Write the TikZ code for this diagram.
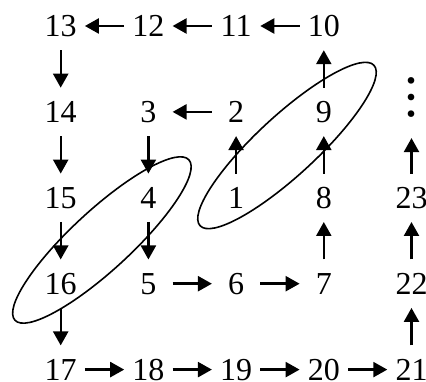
\documentclass[tikz,border=0pt]{standalone}
\usepackage{fontspec}
\setmainfont{Liberation Serif}
\newfontfamily\symfont{Noto Sans CJK SC}
\usetikzlibrary{positioning,arrows.meta}

\begin{document}
\begin{tikzpicture}[
  x=1pt, y=-1pt,
  node distance=57.5pt and 55.3pt,
  num/.style={inner sep=0pt, minimum width=32pt, minimum height=28pt,
    font=\fontsize{32}{38}\selectfont},
  dotsbox/.style={inner sep=0pt, minimum width=32pt, minimum height=60pt,
    font=\symfont\fontsize{50}{52}\selectfont},
  arr/.style={-{Triangle[length=14pt,width=15pt]}, line width=2.4pt},
  harr/.style={arr, shorten <=8pt, shorten >=8pt},
  varr/.style={arr, shorten <=10pt, shorten >=10pt},
  grp/.style={line width=1.6pt}
]
\useasboundingbox (0,0) rectangle (426,382);

% row 1
\node[num] (n13) at (60.7,26) {13};
\node[num, right=of n13] (n12) {12};
\node[num, right=of n12] (n11) {11};
\node[num, right=of n11] (n10) {10};
% row 2
\node[num, below=of n13] (n14) {14};
\node[num, right=of n14] (n3) {3};
\node[num, right=of n3] (n2) {2};
\node[num, right=of n2] (n9) {9};
% row 3
\node[num, below=of n14] (n15) {15};
\node[num, right=of n15] (n4) {4};
\node[num, right=of n4] (n1) {1};
\node[num, right=of n1] (n8) {8};
\node[num, right=of n8] (n23) {23};
% row 4
\node[num, below=of n15] (n16) {16};
\node[num, right=of n16] (n5) {5};
\node[num, right=of n5] (n6) {6};
\node[num, right=of n6] (n7) {7};
\node[num, right=of n7] (n22) {22};
% row 5
\node[num, below=of n16] (n17) {17};
\node[num, right=of n17] (n18) {18};
\node[num, right=of n18] (n19) {19};
\node[num, right=of n19] (n20) {20};
\node[num, right=of n20] (n21) {21};

\node[dotsbox, above=55.5pt of n23] (more) {\smash{\raisebox{-19pt}{︙}}};

\draw[varr] (n1) -- (n2);
\draw[harr] (n2) -- (n3);
\draw[varr] (n3) -- (n4);
\draw[varr] (n4) -- (n5);
\draw[harr] (n5) -- (n6);
\draw[harr] (n6) -- (n7);
\draw[varr] (n7) -- (n8);
\draw[varr] (n8) -- (n9);
\draw[varr] (n9) -- (n10);
\draw[harr] (n10) -- (n11);
\draw[harr] (n11) -- (n12);
\draw[harr] (n12) -- (n13);
\draw[varr] (n13) -- (n14);
\draw[varr] (n14) -- (n15);
\draw[varr] (n15) -- (n16);
\draw[varr] (n16) -- (n17);
\draw[harr] (n17) -- (n18);
\draw[harr] (n18) -- (n19);
\draw[harr] (n19) -- (n20);
\draw[harr] (n20) -- (n21);
\draw[varr] (n21) -- (n22);
\draw[varr] (n22) -- (n23);
\draw[varr] (n23) -- (more);

% diagonals
\draw[grp, rotate around={42.7:(101.9,240)}] (101.9,240) ellipse [x radius=118.3, y radius=29.8];
\draw[grp, rotate around={42.7:(287,145.5)}] (287,145.5) ellipse [x radius=118.3, y radius=29.8];
\end{tikzpicture}
\end{document}
